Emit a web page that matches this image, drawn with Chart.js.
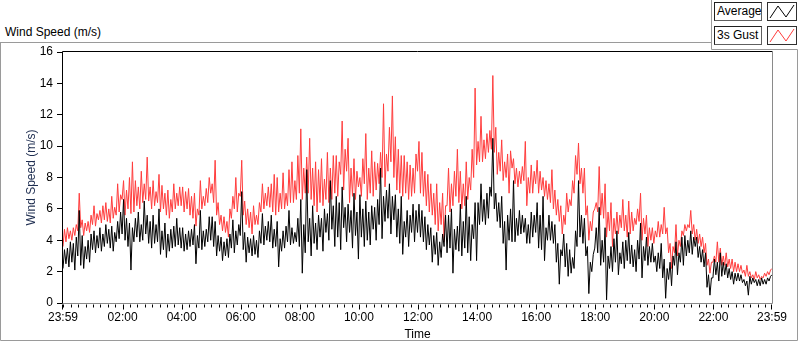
<!DOCTYPE html>
<html>
<head>
<meta charset="utf-8">
<script src="https://cdn.jsdelivr.net/npm/chart.js@4.4.1/dist/chart.umd.min.js"></script>
<style>
  html, body { margin: 0; padding: 0; background: #fff; }
  #wrap { position: relative; width: 800px; height: 342px; overflow: hidden; font-family: "Liberation Sans", Arial, sans-serif; }
  #frame, #holder { position: absolute; left: 0; top: 0; width: 800px; height: 342px; }
  .title { position: absolute; left: 5px; top: 25px; font-size: 12px; line-height: 14px; color: #000; }
  .lg-label { position: absolute; left: 714px; width: 48px; height: 19px; box-sizing: border-box;
    border: 1px solid; border-color: #202020 #606060 #606060 #202020; background: #fff;
    font-size: 12px; line-height: 17px; padding-left: 2px; color: #000; }
  .lg-icon { position: absolute; left: 767px; width: 30px; height: 19px; box-sizing: border-box;
    border: 1px solid #303030; background: #fff; }
</style>
</head>
<body>
<div id="wrap">
  <svg id="frame" width="800" height="342">
    <path d="M0 42.5 H711.5 M711.5 0 V49.5 H797.5 V340.5 H0.5 V42.5" fill="none" stroke="#9a9a9a" stroke-width="1"/>
  </svg>
  <div class="title">Wind Speed (m/s)</div>
  <div class="lg-label" style="top:2px">Average</div>
  <div class="lg-icon" style="top:2px">
    <svg width="28" height="17"><polyline points="2,15 10,3 18,14 26,2" fill="none" stroke="#000" stroke-width="1"/></svg>
  </div>
  <div class="lg-label" style="top:26px">3s Gust</div>
  <div class="lg-icon" style="top:26px">
    <svg width="28" height="17"><polyline points="2,15 10,3 18,14 26,2" fill="none" stroke="#ff3c3c" stroke-width="1"/></svg>
  </div>
  <div id="holder"><canvas id="chart"></canvas></div>
</div>
<script>
// minutes between samples (first sample at 23:59)
const SAMPLE_STEP = 3;

// average wind speed, m/s (one row = one hour)
const avgSpeed = [
  2.2, 3.4, 2.5, 3.5, 2.3, 3.9, 2.6, 3.8, 2.1, 4.2, 3.0, 5.9, 2.4, 4.3, 2.2, 3.6, 2.8, 4.0, 2.6, 4.4,
  3.4, 4.6, 3.2, 4.3, 3.5, 4.8, 3.3, 4.4, 3.6, 5.0, 3.8, 4.7, 3.5, 4.9, 3.3, 4.5, 3.9, 5.2, 4.1, 5.8,
  4.4, 6.6, 4.0, 5.4, 3.6, 5.1, 2.1, 4.8, 3.9, 5.4, 4.2, 5.8, 3.9, 5.0, 4.0, 6.5, 4.4, 5.6, 3.8, 5.2,
  3.5, 5.6, 3.8, 5.0, 3.9, 6.0, 3.1, 4.6, 3.4, 5.1, 2.9, 4.4, 3.3, 4.7, 3.5, 4.9, 3.6, 5.4, 3.7, 4.8,
  3.5, 4.8, 3.3, 4.4, 3.4, 4.6, 3.6, 4.7, 3.7, 5.0, 2.5, 4.3, 3.5, 5.9, 3.4, 4.6, 3.6, 4.7, 3.9, 5.5,
  4.0, 5.5, 3.6, 5.2, 3.0, 4.3, 3.3, 4.2, 2.7, 3.9, 3.0, 4.1, 2.9, 4.4, 3.5, 5.3, 3.2, 4.6, 3.7, 5.0,
  4.3, 7.1, 3.4, 4.5, 2.6, 4.2, 3.2, 4.1, 3.0, 4.3, 3.1, 4.0, 2.9, 4.6, 3.8, 5.7, 3.7, 4.9, 4.0, 5.2,
  3.9, 5.6, 3.5, 4.7, 3.6, 5.2, 2.3, 4.1, 3.3, 4.6, 3.5, 4.9, 3.9, 5.9, 3.7, 4.8, 3.8, 4.5, 3.9, 5.4,
  3.6, 6.6, 1.9, 5.0, 3.2, 8.5, 3.9, 5.4, 3.0, 6.2, 3.8, 5.1, 3.4, 5.6, 4.2, 5.4, 3.3, 6.0, 4.5, 5.7,
  4.0, 7.8, 4.7, 6.2, 3.6, 6.8, 4.2, 6.4, 3.4, 7.4, 4.8, 6.1, 3.9, 6.3, 4.5, 5.9, 3.5, 7.0, 4.3, 5.8,
  2.8, 6.9, 4.2, 6.0, 3.6, 6.5, 4.0, 5.8, 3.7, 6.2, 4.7, 6.1, 4.0, 6.6, 5.0, 8.6, 4.1, 6.8, 5.2, 7.2,
  5.4, 7.6, 4.4, 6.8, 5.3, 6.9, 4.2, 6.0, 3.8, 6.8, 3.1, 5.2, 4.2, 5.9, 3.6, 5.6, 4.5, 6.3, 3.9, 5.9,
  4.5, 6.3, 4.2, 5.9, 3.9, 5.5, 3.4, 5.0, 3.7, 4.8, 2.6, 4.3, 3.1, 4.5, 2.4, 3.9, 2.9, 4.4, 3.6, 5.6,
  3.2, 5.6, 3.5, 6.0, 1.9, 4.7, 3.4, 4.9, 3.3, 6.3, 3.0, 5.2, 3.5, 6.8, 3.2, 5.5, 2.7, 5.0, 4.1, 6.4,
  2.7, 6.4, 5.0, 7.6, 5.2, 6.6, 5.0, 7.0, 5.4, 7.4, 6.8, 10.5, 6.0, 7.0, 5.2, 6.4, 4.8, 6.8, 3.8, 5.2,
  2.1, 5.6, 4.0, 6.0, 3.9, 7.8, 3.9, 5.4, 4.3, 5.9, 4.4, 5.6, 4.5, 5.4, 3.8, 5.0, 3.8, 5.8, 4.2, 5.6,
  4.5, 6.4, 3.5, 5.6, 3.4, 6.8, 2.7, 4.8, 4.0, 5.6, 4.0, 5.2, 3.8, 5.0, 2.6, 3.8, 1.2, 3.4, 3.0, 4.4,
  2.3, 3.8, 1.7, 3.4, 1.9, 2.9, 2.2, 4.6, 3.6, 7.8, 4.2, 5.6, 3.8, 5.4, 3.0, 3.6, 0.6, 2.6, 2.0, 3.1,
  3.5, 4.8, 3.2, 6.1, 2.4, 4.0, 2.6, 4.8, 0.2, 3.0, 2.2, 3.6, 2.0, 4.1, 2.6, 4.6, 1.8, 3.2, 2.5, 3.9,
  2.2, 4.0, 2.7, 4.5, 2.5, 3.7, 2.3, 3.4, 2.0, 4.0, 2.8, 5.1, 1.6, 3.6, 2.7, 4.2, 2.4, 3.6, 2.6, 3.8,
  2.6, 3.0, 2.0, 3.2, 2.2, 3.8, 1.6, 2.8, 0.3, 2.2, 1.5, 2.6, 1.1, 3.0, 2.4, 3.9, 1.8, 3.2, 2.6, 4.2,
  2.4, 4.3, 3.0, 4.0, 3.2, 4.6, 3.1, 4.2, 3.6, 4.2, 2.9, 3.6, 2.6, 3.4, 2.3, 3.2, 1.0, 1.8, 0.5, 1.6,
  1.6, 2.8, 1.8, 2.6, 1.4, 3.2, 1.7, 2.6, 1.8, 2.5, 1.6, 2.2, 1.5, 2.0, 1.2, 1.9, 1.4, 1.9, 1.4, 1.8,
  1.3, 1.5, 1.1, 1.4, 0.5, 1.7, 1.2, 1.6, 1.3, 1.5, 1.1, 1.5, 1.1, 1.6, 1.2, 1.5, 1.2, 1.6, 1.4, 1.7,
  1.8
];

// 3 second gust, m/s (one row = one hour)
const gustSpeed = [
  3.6, 4.7, 3.9, 4.8, 4.1, 4.6, 4.0, 4.8, 4.3, 5.0, 4.6, 7.0, 4.8, 5.3, 4.3, 5.1, 4.6, 5.2, 4.5, 5.6,
  5.0, 6.2, 4.9, 5.7, 5.3, 5.9, 5.1, 6.2, 5.3, 6.4, 5.2, 6.0, 5.1, 6.8, 5.4, 6.1, 5.6, 7.6, 5.8, 6.9,
  6.6, 7.8, 5.6, 7.2, 6.0, 8.0, 5.7, 9.0, 5.8, 7.8, 6.2, 7.4, 6.0, 8.4, 6.4, 7.6, 6.6, 9.3, 6.5, 7.4,
  6.0, 7.8, 6.2, 7.1, 6.4, 8.2, 5.8, 7.5, 6.0, 7.0, 5.6, 7.2, 5.4, 6.6, 5.8, 7.6, 6.0, 7.0, 6.2, 7.4,
  6.2, 7.4, 5.8, 7.1, 6.0, 7.3, 5.6, 6.8, 5.4, 7.0, 4.9, 6.0, 5.6, 7.8, 6.0, 6.8, 6.2, 7.3, 6.4, 8.0,
  7.0, 7.6, 6.4, 9.1, 5.6, 6.4, 5.0, 5.6, 4.6, 5.5, 4.5, 5.2, 4.2, 6.0, 5.4, 6.8, 6.0, 8.0, 5.8, 7.0,
  6.8, 9.1, 5.6, 6.5, 5.0, 6.0, 4.8, 5.8, 4.4, 6.2, 5.0, 5.6, 5.0, 6.4, 5.8, 7.6, 6.0, 7.0, 6.2, 7.4,
  6.1, 7.6, 5.8, 8.2, 5.6, 8.0, 5.8, 7.0, 6.0, 8.3, 6.0, 7.0, 6.2, 8.5, 6.4, 9.0, 6.4, 7.8, 6.6, 9.4,
  7.0, 11.1, 6.6, 8.6, 7.0, 9.3, 7.0, 10.5, 6.6, 8.6, 6.2, 9.0, 5.8, 8.5, 6.4, 9.2, 6.2, 7.9, 6.6, 9.6,
  6.4, 8.6, 6.6, 9.4, 7.0, 9.4, 6.8, 9.0, 8.2, 11.6, 7.2, 9.8, 8.4, 10.5, 6.4, 8.6, 6.8, 9.2, 6.6, 8.4,
  7.4, 8.0, 6.8, 9.2, 7.6, 10.8, 6.6, 8.6, 7.0, 9.7, 6.8, 9.0, 7.2, 8.9, 7.6, 9.6, 8.0, 12.7, 7.4, 9.5,
  8.4, 11.2, 9.0, 13.2, 8.0, 10.6, 7.2, 9.8, 7.0, 9.4, 6.8, 9.4, 7.0, 9.0, 6.6, 8.8, 6.8, 8.6, 7.0, 9.5,
  8.4, 10.3, 7.0, 9.6, 6.8, 8.4, 6.2, 8.2, 5.8, 7.6, 5.6, 7.0, 5.0, 7.6, 4.6, 6.4, 5.0, 7.0, 3.9, 6.2,
  6.2, 8.6, 5.8, 7.6, 6.2, 8.4, 6.8, 9.8, 6.4, 8.4, 6.0, 7.6, 6.2, 9.0, 6.6, 8.0, 7.2, 9.8, 8.0, 13.7,
  8.8, 10.3, 9.0, 11.9, 9.0, 10.4, 9.2, 10.8, 9.6, 11.0, 9.8, 14.5, 9.6, 11.2, 8.2, 9.6, 8.4, 10.4, 7.8, 9.0,
  8.0, 9.5, 7.0, 9.7, 8.6, 9.2, 7.6, 8.6, 7.4, 8.4, 7.6, 8.7, 7.8, 10.3, 6.2, 8.0, 7.0, 8.8, 7.0, 8.4,
  7.6, 9.1, 7.0, 8.4, 7.2, 8.0, 6.8, 7.8, 6.6, 7.6, 6.4, 8.5, 6.0, 7.2, 5.6, 6.6, 5.2, 6.2, 4.4, 5.6,
  5.0, 7.0, 5.8, 6.6, 6.2, 7.8, 7.0, 9.4, 8.2, 10.2, 7.6, 8.6, 7.0, 8.6, 5.6, 6.2, 4.0, 5.2, 4.6, 5.8,
  6.0, 6.4, 5.8, 8.7, 5.6, 7.0, 5.4, 7.6, 4.2, 5.8, 4.6, 6.4, 3.6, 5.4, 4.4, 5.8, 4.4, 5.6, 4.8, 6.6,
  4.6, 5.6, 4.2, 6.5, 4.4, 5.8, 4.6, 5.4, 5.0, 6.0, 5.2, 7.0, 4.0, 5.4, 4.4, 5.6, 3.6, 4.8, 4.0, 4.8,
  3.8, 4.6, 4.2, 5.2, 4.2, 5.0, 4.4, 6.1, 4.4, 4.8, 3.2, 3.8, 2.2, 3.6, 3.2, 5.0, 3.0, 4.0, 3.6, 4.6,
  4.3, 5.0, 4.6, 5.0, 4.8, 5.9, 4.4, 5.0, 4.0, 4.7, 3.8, 4.4, 3.6, 4.2, 3.2, 3.8, 2.4, 2.8, 1.9, 2.6,
  2.6, 3.0, 2.6, 3.9, 2.6, 3.5, 2.4, 3.0, 2.4, 3.2, 2.3, 2.8, 2.2, 2.8, 2.0, 2.6, 2.0, 2.5, 2.0, 2.4,
  1.9, 2.1, 1.7, 2.4, 1.7, 2.0, 1.6, 1.8, 1.5, 2.0, 1.6, 1.8, 1.5, 1.7, 1.6, 1.9, 1.7, 2.0, 1.8, 2.1,
  2.2
];

// time axis labels, placed at minutes after 23:59
const tickMinutes = [0, 121, 241, 361, 481, 601, 721, 841, 961, 1081, 1201, 1321, 1440];
const tickLabels = ['23:59', '02:00', '04:00', '06:00', '08:00', '10:00', '12:00',
                    '14:00', '16:00', '18:00', '20:00', '22:00', '23:59'];

const toPoints = arr => arr.map((v, i) => ({ x: i * SAMPLE_STEP, y: v }));

// plot frame (dark top/left, grey bottom/right) and the small time ticks
const framePlugin = {
  id: 'framePlugin',
  afterDatasetsDraw(chart) {
    const { ctx, chartArea: a, scales: { x } } = chart;
    ctx.save();
    ctx.lineWidth = 1;
    ctx.strokeStyle = '#000';
    ctx.beginPath();
    ctx.moveTo(a.left - 0.5, a.bottom + 0.5);
    ctx.lineTo(a.left - 0.5, a.top - 0.5);
    ctx.lineTo(a.right + 0.5, a.top - 0.5);
    ctx.stroke();
    ctx.strokeStyle = '#8a8a8a';
    ctx.beginPath();
    ctx.moveTo(a.right + 0.5, a.top - 0.5);
    ctx.lineTo(a.right + 0.5, a.bottom + 0.5);
    ctx.lineTo(a.left - 0.5, a.bottom + 0.5);
    ctx.stroke();

    ctx.strokeStyle = '#000';
    ctx.beginPath();
    const y0 = a.bottom + 1.5;
    for (let m = 1; m < 1440; m += 15) {
      const px = Math.round(x.getPixelForValue(m)) + 0.5;
      const len = tickMinutes.includes(m) ? 5 : 3;
      ctx.moveTo(px, y0);
      ctx.lineTo(px, y0 + len);
    }
    [0, 1440].forEach(m => {
      const px = Math.round(x.getPixelForValue(m)) - 0.5;
      ctx.moveTo(px, y0);
      ctx.lineTo(px, y0 + 5);
    });
    ctx.stroke();
    ctx.restore();
  }
};

new Chart(document.getElementById('chart'), {
  type: 'line',
  data: {
    datasets: [
      {
        label: 'Average',
        data: toPoints(avgSpeed),
        borderColor: '#000000',
        borderWidth: 1,
        pointRadius: 0,
        tension: 0
      },
      {
        label: '3s Gust',
        data: toPoints(gustSpeed),
        borderColor: '#ff3c3c',
        borderWidth: 1,
        pointRadius: 0,
        tension: 0
      }
    ]
  },
  options: {
    responsive: true,
    maintainAspectRatio: false,
    animation: false,
    events: [],
    layout: { padding: { top: 52, right: 28, left: 0, bottom: 0 } },
    plugins: { legend: { display: false }, tooltip: { enabled: false } },
    scales: {
      x: {
        type: 'linear',
        min: 0,
        max: 1440,
        afterBuildTicks: s => { s.ticks = tickMinutes.map(v => ({ value: v })); },
        afterFit: s => { s.height = 39; },
        grid: { display: false, drawTicks: true, tickLength: 5 },
        border: { display: false },
        ticks: {
          autoSkip: false,
          maxRotation: 0,
          padding: 2,
          color: '#000',
          font: { family: 'Liberation Sans', size: 12 },
          callback: (v, i) => tickLabels[i]
        },
        title: {
          display: true,
          text: 'Time',
          color: '#000',
          font: { family: 'Liberation Sans', size: 12 },
          padding: { top: 0, bottom: 0 }
        }
      },
      y: {
        min: 0,
        max: 16,
        afterFit: s => { s.width = 63; },
        grid: { display: true, drawOnChartArea: false, drawTicks: true, tickLength: 6, color: '#000' },
        border: { display: false },
        ticks: {
          stepSize: 2,
          padding: 4,
          color: '#000',
          font: { family: 'Liberation Sans', size: 12 }
        },
        title: {
          display: true,
          text: 'Wind Speed (m/s)',
          color: '#1e2d50',
          font: { family: 'Liberation Sans', size: 12 },
          padding: { top: 24, bottom: 0 }
        }
      }
    }
  },
  plugins: [framePlugin]
});
</script>
</body>
</html>
